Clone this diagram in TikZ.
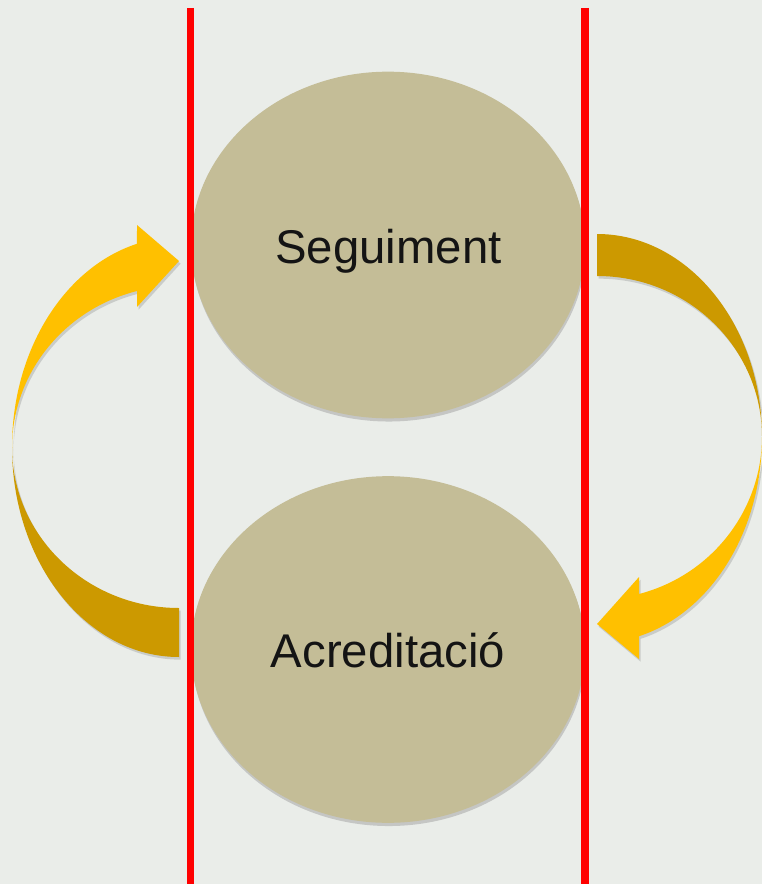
\documentclass[tikz,border=0pt]{standalone}
\usepackage{fontspec}
\setmainfont{Liberation Sans}
\usetikzlibrary{shapes.geometric,shadows}
\definecolor{bgc}{RGB}{234,237,233}
\definecolor{tan}{RGB}{196,189,151}
\definecolor{gold}{RGB}{255,192,0}
\definecolor{darkgold}{RGB}{204,153,0}
\definecolor{redline}{RGB}{255,0,0}
\tikzset{
  bubble/.style={ellipse, fill=tan, draw=none, inner sep=0pt,
    minimum width=295.5pt, minimum height=260pt,
    drop shadow={opacity=0.35, shadow xshift=0.6pt, shadow yshift=-2.4pt}},
  label/.style={font=\fontsize{35.5}{40}\selectfont, text=black!92, anchor=base, inner sep=0pt},
  front/.style={fill=gold, draw=none,
    drop shadow={opacity=0.3, shadow xshift=1.2pt, shadow yshift=-2pt}},
  back/.style={fill=darkgold, draw=none,
    drop shadow={opacity=0.3, shadow xshift=1.2pt, shadow yshift=-2pt}},
  divider/.style={draw=redline, line width=5.5pt,
    drop shadow={opacity=0.3, shadow xshift=1pt, shadow yshift=-0.5pt}}
}
\begin{document}
\begin{tikzpicture}[x=0.75pt,y=-0.75pt]
\fill[bgc] (0,0) rectangle (762,884);
\useasboundingbox (0,0) rectangle (762,884);

% ellipses
\node[bubble] (seg) at (388,245) {};
\node[bubble] (acr) at (388,649.5) {};
\node[label] (segt) at (388.5,263) {Seguiment};
\node[label] (acrt) at (388,667) {Acreditació};

% left curved arrow (back part)
\path[back] (179,657) arc[start angle=90, end angle=180, x radius=167, y radius=210]
  arc[start angle=180, end angle=90, x radius=167, y radius=161] -- cycle;
% left curved arrow (front part with head)
\path[front] (12,447) arc[start angle=180, end angle=255.43, x radius=167, y radius=210]
  -- (137,225) -- (179,261) -- (137,307) -- (137,291)
  arc[start angle=255.43, end angle=180, x radius=167, y radius=162] -- cycle;

% right curved arrow (back part)
\path[back] (597,234) arc[start angle=270, end angle=360, x radius=165, y radius=203]
  arc[start angle=360, end angle=270, x radius=165, y radius=161] -- cycle;
% right curved arrow (front part with head)
\path[front] (762,437) arc[start angle=0, end angle=75.25, x radius=165, y radius=206]
  -- (639,659) -- (597,624) -- (639,577) -- (639,594)
  arc[start angle=75.25, end angle=0, x radius=165, y radius=163] -- cycle;

% red dividers
\coordinate (l1) at (190.3,8);
\coordinate (l2) at (190.3,884);
\coordinate (r1) at (585,8);
\coordinate (r2) at (585,884);
\path[divider] (l1) -- (l2);
\path[divider] (r1) -- (r2);
\end{tikzpicture}
\end{document}
